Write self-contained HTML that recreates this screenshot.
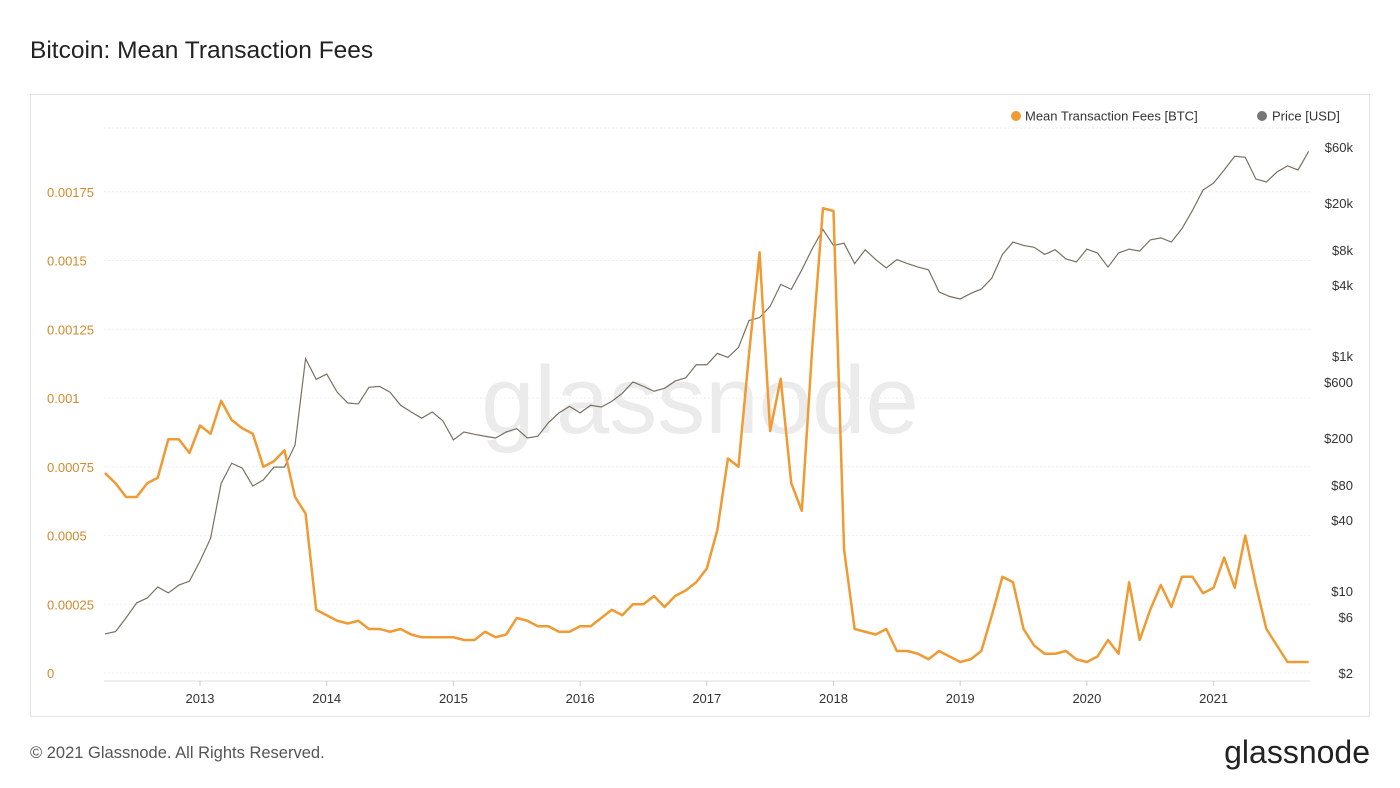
<!DOCTYPE html>
<html><head><meta charset="utf-8"><style>
body{margin:0;background:#fff;font-family:"Liberation Sans",sans-serif;}
#wrap{position:relative;width:1400px;height:788px;overflow:hidden;background:#fff}
</style></head><body>
<div id="wrap">
<svg id="svg" width="1400" height="788" xmlns="http://www.w3.org/2000/svg">
<text x="30" y="58" font-size="24.5" fill="#222">Bitcoin: Mean Transaction Fees</text>
<rect x="30.5" y="94.5" width="1339" height="622" fill="none" stroke="#e3e3e3"/>
<text x="700" y="433" font-size="96" fill="#ebebeb" text-anchor="middle">glassnode</text>
<g id="grid"></g><g id="axes"></g><g id="series"></g>
<g>
<circle cx="1016" cy="116" r="5" fill="#f09a33"/>
<text x="1025" y="120.5" font-size="13" fill="#333">Mean Transaction Fees [BTC]</text>
<circle cx="1262" cy="116" r="5" fill="#777"/>
<text x="1272" y="120.5" font-size="13" fill="#333">Price [USD]</text>
</g>
<text x="30" y="758" font-size="16.5" fill="#555">© 2021 Glassnode. All Rights Reserved.</text>
<text x="1370" y="763" font-size="32" fill="#222" text-anchor="end">glassnode</text>
</svg>
</div>
<script>
const fees=[0.000727,0.00069,0.00064,0.00064,0.00069,0.00071,0.00085,0.00085,0.0008,0.0009,0.00087,0.00099,0.00092,0.00089,0.00087,0.00075,0.00077,0.00081,0.00064,0.00058,0.00023,0.00021,0.00019,0.00018,0.00019,0.00016,0.00016,0.00015,0.00016,0.00014,0.00013,0.00013,0.00013,0.00013,0.00012,0.00012,0.00015,0.00013,0.00014,0.0002,0.00019,0.00017,0.00017,0.00015,0.00015,0.00017,0.00017,0.0002,0.00023,0.00021,0.00025,0.00025,0.00028,0.00024,0.00028,0.0003,0.00033,0.00038,0.00052,0.00078,0.00075,0.00116,0.00153,0.00088,0.00107,0.00069,0.00059,0.00119,0.00169,0.00168,0.00045,0.00016,0.00015,0.00014,0.00016,0.00008,0.00008,0.00007,0.00005,0.00008,0.00006,0.00004,0.00005,0.00008,0.00021,0.00035,0.00033,0.00016,0.0001,0.00007,0.00007,0.00008,0.00005,0.00004,0.00006,0.00012,0.00007,0.00033,0.00012,0.00023,0.00032,0.00024,0.00035,0.00035,0.00029,0.00031,0.00042,0.00031,0.0005,0.00032,0.00016,0.0001,0.00004,0.00004,0.00004];
const prices=[4.3,4.5,5.9,7.9,8.7,10.8,9.6,11.2,12.1,17.9,28,82,122,111,78,88,113,113,174,948,632,700,490,397,390,540,550,490,380,333,295,333,280,193,225,215,207,200,225,240,200,207,270,327,372,327,380,367,410,480,600,550,500,530,610,650,840,840,1050,970,1180,2000,2120,2640,4060,3680,5400,8200,11900,8700,9100,6100,8000,6600,5600,6600,6100,5700,5400,3500,3200,3050,3400,3700,4600,7300,9300,8700,8400,7300,8000,6700,6300,8100,7500,5700,7500,8100,7800,9700,10100,9300,12100,17300,25800,29600,38200,50000,49000,32000,30200,36700,41400,38200,55000];
const yearLabels=["2013","2014","2015","2016","2017","2018","2019","2020","2021"];
const feeTicks=[0,0.00025,0.0005,0.00075,0.001,0.00125,0.0015,0.00175];
const feeTickLabels=["0","0.00025","0.0005","0.00075","0.001","0.00125","0.0015","0.00175"];
const priceTicks=[2,6,10,40,80,200,600,1000,4000,8000,20000,60000];
const priceTickLabels=["$2","$6","$10","$40","$80","$200","$600","$1k","$4k","$8k","$20k","$60k"];
const startYear=2012.25;
const NS="http://www.w3.org/2000/svg";
function mk(t,a,p){const e=document.createElementNS(NS,t);for(const k in a)e.setAttribute(k,a[k]);p.appendChild(e);return e;}
const xOfYear=y=>200+(y-2013)*126.7;
const xOfIdx=i=>xOfYear(startYear+i/12);
const yFee=v=>673-v*275000;
const yPrice=p=>673-Math.log10(p/2)*117.5;
const grid=document.getElementById('grid'),axes=document.getElementById('axes'),ser=document.getElementById('series');
feeTicks.forEach((v,i)=>{
 const l=mk('line',{x1:104,x2:1310,y1:yFee(v),y2:yFee(v),stroke:'#eee','stroke-dasharray':'2,2'},grid);
 
 
 const t=mk('text',{x:47,y:yFee(v)+5,'font-size':13,fill:'#d08a2a'},axes);t.textContent=feeTickLabels[i];
 
 
});
const tl=mk('line',{x1:104,x2:1310,y1:128,y2:128,stroke:'#eee','stroke-dasharray':'2,2'},grid);


priceTicks.forEach((p,i)=>{
 const t=mk('text',{x:1353,y:yPrice(p)+5,'font-size':13,fill:'#333','text-anchor':'end'},axes);t.textContent=priceTickLabels[i];
 
 
});
const ax=mk('line',{x1:104,x2:1310,y1:681,y2:681,stroke:'#ddd'},axes);


yearLabels.forEach(y=>{
 const x=xOfYear(+y);
 const k=mk('line',{x1:x,x2:x,y1:681,y2:686,stroke:'#ccc'},axes);
 
 
 const t=mk('text',{x:x,y:703,'font-size':13,fill:'#333','text-anchor':'middle'},axes);t.textContent=y;
 
 
});
const pp=mk('polyline',{points:prices.map((p,i)=>xOfIdx(i)+','+yPrice(p)).join(' '),fill:'none',stroke:'#7a7060','stroke-width':1.2},ser);


const fp=mk('polyline',{points:fees.map((v,i)=>xOfIdx(i)+','+yFee(v)).join(' '),fill:'none',stroke:'#f09a33','stroke-width':2.5,'stroke-linejoin':'round'},ser);


</script>
</body></html>
